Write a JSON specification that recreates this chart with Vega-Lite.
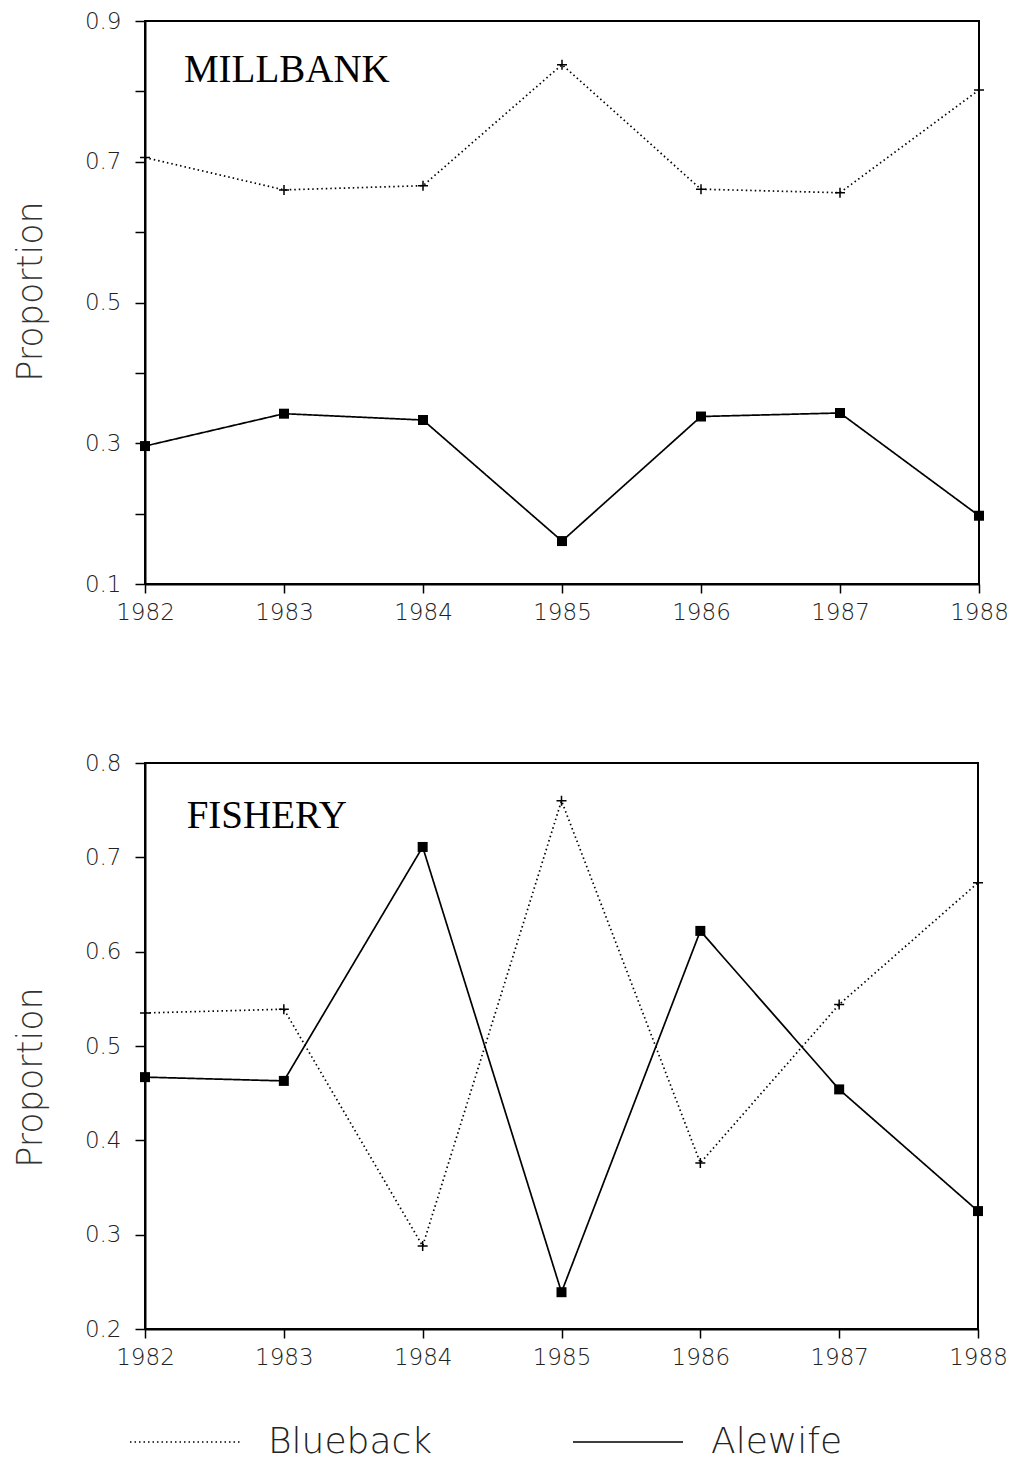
{
  "$schema": "https://vega.github.io/schema/vega-lite/v6.json",
  "background": "white",
  "padding": {"left": 12, "top": 9, "right": 5, "bottom": 3},
  "datasets": {
    "d": [
      {"panel": "MILLBANK", "year": 1982, "species": "Blueback", "value": 0.706},
      {"panel": "MILLBANK", "year": 1983, "species": "Blueback", "value": 0.660},
      {"panel": "MILLBANK", "year": 1984, "species": "Blueback", "value": 0.666},
      {"panel": "MILLBANK", "year": 1985, "species": "Blueback", "value": 0.838},
      {"panel": "MILLBANK", "year": 1986, "species": "Blueback", "value": 0.661},
      {"panel": "MILLBANK", "year": 1987, "species": "Blueback", "value": 0.656},
      {"panel": "MILLBANK", "year": 1988, "species": "Blueback", "value": 0.802},
      {"panel": "MILLBANK", "year": 1982, "species": "Alewife", "value": 0.296},
      {"panel": "MILLBANK", "year": 1983, "species": "Alewife", "value": 0.342},
      {"panel": "MILLBANK", "year": 1984, "species": "Alewife", "value": 0.333},
      {"panel": "MILLBANK", "year": 1985, "species": "Alewife", "value": 0.161},
      {"panel": "MILLBANK", "year": 1986, "species": "Alewife", "value": 0.338},
      {"panel": "MILLBANK", "year": 1987, "species": "Alewife", "value": 0.343},
      {"panel": "MILLBANK", "year": 1988, "species": "Alewife", "value": 0.197},
      {"panel": "FISHERY", "year": 1982, "species": "Blueback", "value": 0.535},
      {"panel": "FISHERY", "year": 1983, "species": "Blueback", "value": 0.539},
      {"panel": "FISHERY", "year": 1984, "species": "Blueback", "value": 0.288},
      {"panel": "FISHERY", "year": 1985, "species": "Blueback", "value": 0.760},
      {"panel": "FISHERY", "year": 1986, "species": "Blueback", "value": 0.376},
      {"panel": "FISHERY", "year": 1987, "species": "Blueback", "value": 0.544},
      {"panel": "FISHERY", "year": 1988, "species": "Blueback", "value": 0.673},
      {"panel": "FISHERY", "year": 1982, "species": "Alewife", "value": 0.467},
      {"panel": "FISHERY", "year": 1983, "species": "Alewife", "value": 0.463},
      {"panel": "FISHERY", "year": 1984, "species": "Alewife", "value": 0.711},
      {"panel": "FISHERY", "year": 1985, "species": "Alewife", "value": 0.239},
      {"panel": "FISHERY", "year": 1986, "species": "Alewife", "value": 0.622},
      {"panel": "FISHERY", "year": 1987, "species": "Alewife", "value": 0.454},
      {"panel": "FISHERY", "year": 1988, "species": "Alewife", "value": 0.325}
    ]
  },
  "vconcat": [
    {
      "width": 834,
      "height": 563,
      "data": {"name": "d"},
      "transform": [{"filter": "datum.panel == 'MILLBANK'"}],
      "encoding": {
        "x": {"field": "year", "type": "quantitative", "scale": {"domain": [1982, 1988], "nice": false, "zero": false}, "axis": {"title": null, "values": [1982, 1983, 1984, 1985, 1986, 1987, 1988], "format": "d", "tickSize": 9, "labelPadding": 8, "labelFlush": false}},
        "y": {"field": "value", "type": "quantitative", "scale": {"domain": [0.1, 0.9], "nice": false, "zero": false}, "axis": {"title": "Proportion", "values": [0.1, 0.2, 0.3, 0.4, 0.5, 0.6, 0.7, 0.8, 0.9], "labelExpr": "round(datum.value*10) % 2 == 1 ? format(datum.value, '.1f') : ''", "tickSize": 10, "labelPadding": 14, "titlePadding": 36, "titleY": 270, "labelFlush": false}}
      },
      "layer": [
        {
          "mark": {"type": "line", "color": "black", "strokeWidth": 1.7},
          "encoding": {
            "strokeDash": {"field": "species", "type": "nominal", "scale": {"domain": ["Blueback", "Alewife"], "range": [[1.5, 3], [1, 0]]}, "legend": null}
          }
        },
        {
          "transform": [{"filter": "datum.species == 'Blueback'"}],
          "mark": {"type": "point", "shape": "M-1,0H1M0,-1V1", "filled": false, "stroke": "black", "strokeWidth": 1.5, "size": 100, "opacity": 1}
        },
        {
          "transform": [{"filter": "datum.species == 'Alewife'"}],
          "mark": {"type": "point", "shape": "square", "filled": true, "color": "black", "size": 100, "opacity": 1}
        },
        {
          "transform": [{"filter": "datum.species == 'Blueback' && datum.year == 1982"}],
          "mark": {"type": "text", "align": "left", "baseline": "alphabetic", "font": "Liberation Serif", "fontSize": 39, "color": "black"},
          "encoding": {
            "x": {"datum": 1982.28},
            "y": {"datum": 0.813},
            "text": {"field": "panel"}
          }
        }
      ]
    },
    {
      "width": 833,
      "height": 566,
      "data": {"name": "d"},
      "transform": [{"filter": "datum.panel == 'FISHERY'"}],
      "encoding": {
        "x": {"field": "year", "type": "quantitative", "scale": {"domain": [1982, 1988], "nice": false, "zero": false}, "axis": {"title": null, "values": [1982, 1983, 1984, 1985, 1986, 1987, 1988], "format": "d", "tickSize": 9, "labelPadding": 8, "labelFlush": false}},
        "y": {"field": "value", "type": "quantitative", "scale": {"domain": [0.2, 0.8], "nice": false, "zero": false}, "axis": {"title": "Proportion", "values": [0.2, 0.3, 0.4, 0.5, 0.6, 0.7, 0.8], "format": ".1f", "tickSize": 10, "labelPadding": 14, "titlePadding": 36, "titleY": 314, "labelFlush": false}}
      },
      "layer": [
        {
          "mark": {"type": "line", "color": "black", "strokeWidth": 1.7},
          "encoding": {
            "strokeDash": {"field": "species", "type": "nominal", "scale": {"domain": ["Blueback", "Alewife"], "range": [[1.5, 3], [1, 0]]},
              "legend": {"orient": "none", "legendX": -16, "legendY": 623, "direction": "horizontal", "title": null, "padding": 0, "symbolType": "stroke", "symbolSize": 12100, "symbolStrokeColor": "black", "symbolStrokeWidth": 1.5, "labelFont": "DejaVu Sans", "labelFontWeight": 200, "labelFontSize": 36, "labelColor": "#222", "labelOffset": 27, "columnPadding": 137, "labelLimit": 400}}
          }
        },
        {
          "transform": [{"filter": "datum.species == 'Blueback'"}],
          "mark": {"type": "point", "shape": "M-1,0H1M0,-1V1", "filled": false, "stroke": "black", "strokeWidth": 1.5, "size": 100, "opacity": 1}
        },
        {
          "transform": [{"filter": "datum.species == 'Alewife'"}],
          "mark": {"type": "point", "shape": "square", "filled": true, "color": "black", "size": 100, "opacity": 1}
        },
        {
          "transform": [{"filter": "datum.species == 'Blueback' && datum.year == 1982"}],
          "mark": {"type": "text", "align": "left", "baseline": "alphabetic", "font": "Liberation Serif", "fontSize": 39, "color": "black"},
          "encoding": {
            "x": {"datum": 1982.30},
            "y": {"datum": 0.731},
            "text": {"field": "panel"}
          }
        }
      ]
    }
  ],
  "spacing": 126,
  "resolve": {"scale": {"x": "independent", "y": "independent", "strokeDash": "independent"}, "legend": {"strokeDash": "independent"}},
  "config": {
    "view": {"stroke": "black", "strokeWidth": 2},
    "axis": {"domainColor": "black", "domainWidth": 2, "tickColor": "black", "tickWidth": 1.5, "grid": false, "labelFont": "DejaVu Sans", "labelFontWeight": 200, "labelFontSize": 23, "labelColor": "#222", "titleFont": "DejaVu Sans", "titleFontWeight": 200, "titleFontSize": 35, "titleColor": "#333"}
  }
}
